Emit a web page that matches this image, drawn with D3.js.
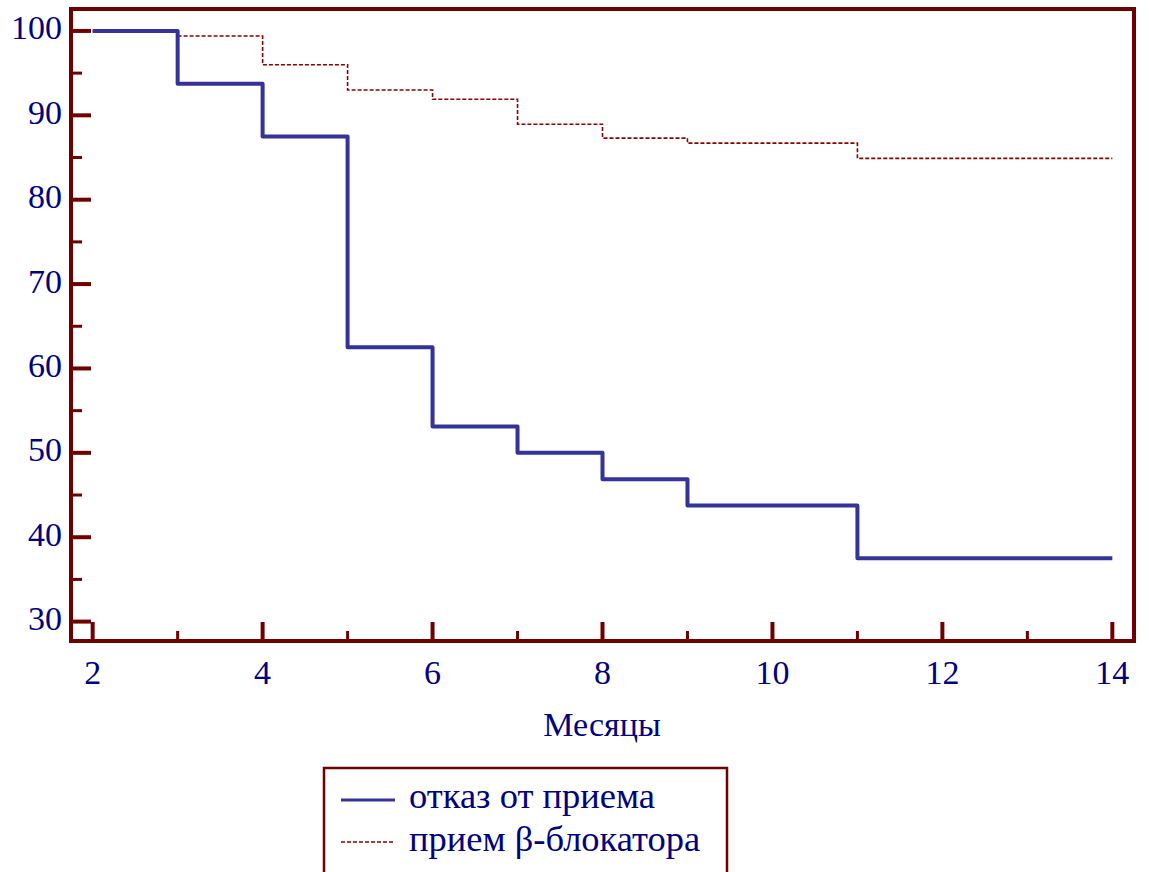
<!DOCTYPE html>
<html><head><meta charset="utf-8">
<script src="https://cdn.jsdelivr.net/npm/d3@7"></script>
<style>body{margin:0;background:#fff;} svg{display:block;}</style>
</head><body>
<svg id="c" width="1149" height="872"></svg>
<script>
const months = [2, 3, 4, 5, 6, 7, 8, 9, 11, 14];
const refusal = [100, 93.75, 87.5, 62.5, 53.125, 50, 46.875, 43.75, 37.5, 37.5];
const betaBlocker = [100, 99.4, 96.0, 93.0, 91.9, 88.95, 87.3, 86.7, 84.9, 84.9];
const xTicks = [2, 4, 6, 8, 10, 12, 14];
const xMinor = [3, 5, 7, 9, 11, 13];
const yTicks = [30, 40, 50, 60, 70, 80, 90, 100];
const yMinor = [35, 45, 55, 65, 75, 85, 95];
const seriesNames = ["отказ от приема", "прием β-блокатора"];

const frame = "#6e0000", navy = "#000080", blue = "#333399", red = "#8b0000";
const font = "'Liberation Serif','Times New Roman',serif";
const svg = d3.select("#c");
const L = 71, R = 1134, T = 9, B = 641;
const x = d3.scaleLinear().domain([1.745, 14.255]).range([L, R]);
const y = d3.scaleLinear().domain([27.7, 102.6]).range([B, T]);

// frame
svg.append("rect").attr("x", L).attr("y", T).attr("width", R - L).attr("height", B - T)
  .attr("fill", "none").attr("stroke", frame).attr("stroke-width", 4);

const line = d3.line().x((d, i) => x(months[i])).y(d => y(d)).curve(d3.curveStepAfter);
svg.append("path").datum(betaBlocker).attr("d", line).attr("fill", "none")
  .attr("stroke", red).attr("stroke-width", 1.6).attr("stroke-dasharray", "4,2");
svg.append("path").datum(refusal).attr("d", line).attr("fill", "none")
  .attr("stroke", blue).attr("stroke-width", 4).attr("stroke-linejoin", "round");

// y axis ticks
const gy = svg.append("g");
gy.selectAll("line.maj").data(yTicks).join("line").attr("x1", L).attr("x2", L + 20)
  .attr("y1", d => y(d)).attr("y2", d => y(d)).attr("stroke", frame).attr("stroke-width", 4);
gy.selectAll("line.min").data(yMinor).join("line").attr("class", "min").attr("x1", L).attr("x2", L + 11)
  .attr("y1", d => y(d)).attr("y2", d => y(d)).attr("stroke", frame).attr("stroke-width", 3);
gy.selectAll("text").data(yTicks).join("text").attr("x", 62).attr("y", d => y(d))
  .attr("dy", "0.25em").attr("text-anchor", "end").attr("fill", navy)
  .style("font-family", font).style("font-size", "34px").text(d => d);

// x axis ticks
const gx = svg.append("g");
gx.selectAll("line.maj").data(xTicks).join("line").attr("y1", B).attr("y2", B - 19)
  .attr("x1", d => x(d)).attr("x2", d => x(d)).attr("stroke", frame).attr("stroke-width", 4);
gx.selectAll("line.min").data(xMinor).join("line").attr("class", "min").attr("y1", B).attr("y2", B - 10)
  .attr("x1", d => x(d)).attr("x2", d => x(d)).attr("stroke", frame).attr("stroke-width", 3);
gx.selectAll("text").data(xTicks).join("text").attr("x", d => x(d)).attr("y", 684)
  .attr("text-anchor", "middle").attr("fill", navy)
  .style("font-family", font).style("font-size", "34px").text(d => d);

svg.append("text").attr("x", 602).attr("y", 736).attr("text-anchor", "middle").attr("fill", navy)
  .style("font-family", font).style("font-size", "34px").text("Месяцы");

// legend
const lg = svg.append("g");
lg.append("rect").attr("x", 324).attr("y", 768).attr("width", 403).attr("height", 120)
  .attr("fill", "#fff").attr("stroke", frame).attr("stroke-width", 2.5);
const styles = [{c: blue, w: 3, d: null, ly: 800, ty: 808}, {c: red, w: 1.5, d: "4,2", ly: 842, ty: 851}];
seriesNames.forEach((n, i) => {
  const s = styles[i];
  lg.append("line").attr("x1", 341).attr("x2", 395).attr("y1", s.ly).attr("y2", s.ly)
    .attr("stroke", s.c).attr("stroke-width", s.w).attr("stroke-dasharray", s.d);
  lg.append("text").attr("x", 409).attr("y", s.ty).attr("fill", navy)
    .style("font-family", font).style("font-size", "36.5px").text(n);
});
</script>
</body></html>
